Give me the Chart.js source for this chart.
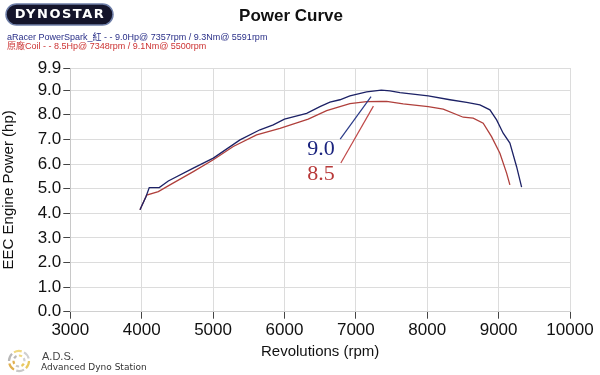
<!DOCTYPE html>
<html><head><meta charset="utf-8">
<script src="https://cdn.jsdelivr.net/npm/chart.js@4/dist/chart.umd.min.js"></script>
<style>html,body{margin:0;padding:0;background:#fff}#wrap{width:600px;height:375px;position:relative}</style>
</head><body><div id="wrap"><canvas id="c" width="600" height="375"></canvas></div>
<script>
// ---- data ----
const rpmBlue = [3976, 4060, 4106, 4246, 4373, 4723, 5003, 5377, 5657, 5843, 6000, 6311, 6497, 6637, 6777, 6917, 7151, 7357, 7478, 7618, 8014, 8318, 8552, 8738, 8878, 8972, 9064, 9158, 9252, 9322];
const hpBlue  = [4.14, 4.67, 5.04, 5.04, 5.31, 5.83, 6.24, 6.98, 7.39, 7.59, 7.82, 8.06, 8.33, 8.51, 8.61, 8.77, 8.93, 9.00, 8.97, 8.90, 8.77, 8.61, 8.50, 8.40, 8.20, 7.79, 7.25, 6.85, 5.89, 5.06];
const rpmRed  = [3976, 4070, 4233, 4396, 4723, 5003, 5283, 5610, 5937, 6333, 6591, 6777, 6917, 7151, 7348, 7431, 7664, 8014, 8224, 8504, 8644, 8784, 8901, 9018, 9112, 9158];
const hpRed   = [4.14, 4.74, 4.88, 5.15, 5.69, 6.17, 6.71, 7.18, 7.45, 7.82, 8.17, 8.33, 8.45, 8.53, 8.54, 8.54, 8.44, 8.33, 8.23, 7.90, 7.86, 7.66, 7.11, 6.44, 5.63, 5.15];
const yTicks = [0, 1, 2, 3, 4, 5, 6, 7, 8, 9, 9.9];
const xTicks = [3000, 4000, 5000, 6000, 7000, 8000, 9000, 10000];
const seriesNames = ["aRacer PowerSpark_紅 - - 9.0Hp@ 7357rpm / 9.3Nm@ 5591rpm", "原廠Coil - - 8.5Hp@ 7348rpm / 9.1Nm@ 5500rpm"];
const peakLabels = ["9.0", "8.5"];

const BLUE = '#1d2266', RED = '#b0403c';
const toPts = (xs, ys) => xs.map((x, i) => ({x: x, y: ys[i]}));

const deco = {
  id: 'deco',
  afterDraw(chart) {
    const ctx = chart.ctx, xs = chart.scales.x, ys = chart.scales.y;
    ctx.save();
    // title
    ctx.fillStyle = '#111';
    ctx.font = 'bold 17px "Liberation Sans", Arial, sans-serif';
    ctx.textAlign = 'center'; ctx.textBaseline = 'middle';
    ctx.fillText('Power Curve', 291, 16);
    // Dynostar logo
    ctx.beginPath();
    ctx.roundRect(6, 4, 107, 21, 10.5);
    ctx.fillStyle = '#15152b'; ctx.fill();
    ctx.lineWidth = 1.5; ctx.strokeStyle = '#6f7fa8'; ctx.stroke();
    ctx.fillStyle = '#fff';
    ctx.font = 'bold 13px "DejaVu Sans", sans-serif';
    ctx.letterSpacing = '1.5px';
    ctx.fillText('DYNOSTAR', 60, 15);
    ctx.letterSpacing = '0px';
    // legend lines
    ctx.textAlign = 'left';
    ctx.font = '9px "Liberation Sans", "Noto Sans CJK TC", sans-serif';
    ctx.fillStyle = '#2a2f88';
    ctx.fillText(seriesNames[0], 7, 38);
    ctx.fillStyle = '#cc3333';
    ctx.fillText(seriesNames[1], 7, 47);
    // annotations
    ctx.font = '22px "Liberation Serif", "DejaVu Serif", serif';
    ctx.textBaseline = 'alphabetic';
    ctx.fillStyle = '#1a237e';
    ctx.fillText(peakLabels[0], xs.getPixelForValue(6320), ys.getPixelForValue(6.37));
    ctx.fillStyle = '#b83a3a';
    ctx.fillText(peakLabels[1], xs.getPixelForValue(6320), ys.getPixelForValue(5.35));
    ctx.lineWidth = 1.2;
    ctx.strokeStyle = '#2a3a88';
    ctx.beginPath();
    ctx.moveTo(xs.getPixelForValue(6781), ys.getPixelForValue(7.01));
    ctx.lineTo(xs.getPixelForValue(7213), ys.getPixelForValue(8.74));
    ctx.stroke();
    ctx.strokeStyle = '#c04848';
    ctx.beginPath();
    ctx.moveTo(xs.getPixelForValue(6790), ys.getPixelForValue(6.04));
    ctx.lineTo(xs.getPixelForValue(7246), ys.getPixelForValue(8.35));
    ctx.stroke();
    // ADS logo
    const cx = 19, cy = 361;
    const cols = ['#e8c860', '#c8c8c8', '#e0b050', '#b8b8b8', '#f0d880', '#d0d0d0'];
    ctx.lineWidth = 2.2;
    for (let i = 0; i < 6; i++) {
      ctx.strokeStyle = cols[i];
      ctx.beginPath();
      const a = i * Math.PI / 3;
      ctx.arc(cx, cy, 10, a, a + 0.8);
      ctx.stroke();
      ctx.beginPath();
      ctx.arc(cx, cy, 5.5, a + 0.5, a + 1.1);
      ctx.stroke();
    }
    ctx.fillStyle = '#444';
    ctx.font = '11px "Liberation Sans", sans-serif';
    ctx.textBaseline = 'middle';
    ctx.fillText('A.D.S.', 42, 357);
    ctx.font = '9px "DejaVu Sans", sans-serif';
    ctx.fillStyle = '#333';
    ctx.fillText('Advanced Dyno Station', 41, 368);
    ctx.restore();
  }
};

new Chart(document.getElementById('c'), {
  type: 'line',
  data: {
    datasets: [
      {label: seriesNames[0], data: toPts(rpmBlue, hpBlue), borderColor: BLUE, borderWidth: 1.3, pointRadius: 0, tension: 0, fill: false},
      {label: seriesNames[1], data: toPts(rpmRed, hpRed), borderColor: RED, borderWidth: 1.3, pointRadius: 0, tension: 0, fill: false}
    ]
  },
  options: {
    responsive: false,
    animation: false,
    events: [],
    layout: {padding: {left: 0, top: 68, right: 30, bottom: 0}},
    plugins: {legend: {display: false}, title: {display: false}, tooltip: {enabled: false}},
    scales: {
      x: {
        type: 'linear', min: 3000, max: 10000,
        afterBuildTicks: s => { s.ticks = xTicks.map(v => ({value: v})); },
        afterFit: s => { s.height = 63.3; },
        grid: {color: '#dcdcdc', tickColor: '#444', tickLength: 7, lineWidth: 1},
        border: {color: '#d0d0d0'},
        ticks: {color: '#111', padding: 1, maxRotation: 0, font: {family: '"Liberation Sans", Arial, sans-serif', size: 17}, callback: v => String(v)},
        title: {display: true, text: 'Revolutions (rpm)', color: '#111', padding: {top: 0, bottom: 14}, font: {family: '"Liberation Sans", Arial, sans-serif', size: 15}}
      },
      y: {
        min: 0, max: 9.9,
        afterBuildTicks: s => { s.ticks = yTicks.map(v => ({value: v})); },
        afterFit: s => { s.width = 70.3; },
        grid: {color: '#dcdcdc', tickColor: '#444', tickLength: 7, lineWidth: 1},
        border: {color: '#c8c8c8'},
        ticks: {color: '#111', padding: 2, font: {family: '"Liberation Sans", Arial, sans-serif', size: 17}, callback: v => Number(v).toFixed(1)},
        title: {display: true, text: 'EEC Engine Power (hp)', color: '#111', padding: {top: 0, bottom: 0}, font: {family: '"Liberation Sans", Arial, sans-serif', size: 15}}
      }
    }
  },
  plugins: [deco]
});
</script></body></html>
